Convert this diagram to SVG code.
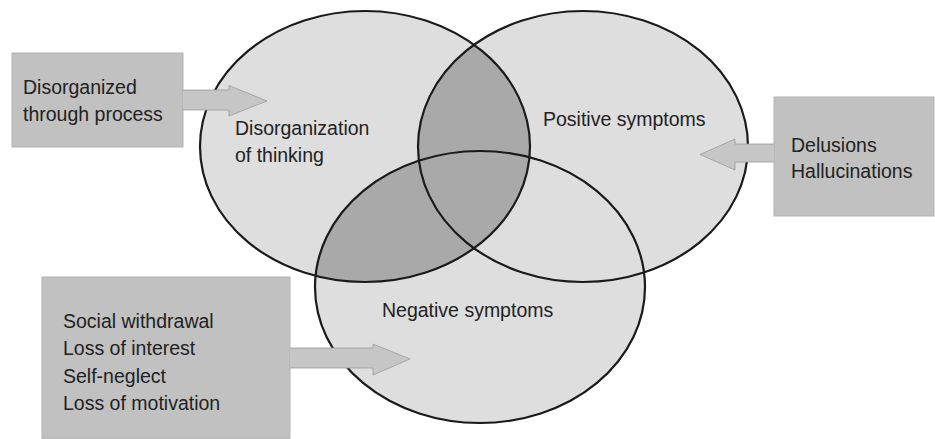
<svg xmlns="http://www.w3.org/2000/svg" width="935" height="439" viewBox="0 0 935 439">
  <style>
    .set { fill: #dedede; stroke: none; }
    .overlap { fill: #a9a9a9; stroke: none; }
    .rim { fill: none; stroke: #1a1a1a; stroke-width: 2.2; }
    .box { fill: #c1c1c1; stroke: #b3b3b3; stroke-width: 1; }
    .arrow { fill: #c6c6c6; stroke: #9a9a9a; stroke-width: 0.8; }
    .label { font-family: "Liberation Sans", Arial, sans-serif; font-size: 19.5px; fill: #222; }
  </style>
  <defs>
    <ellipse id="setA" cx="365" cy="146.5" rx="165" ry="135.5"/>
    <ellipse id="setB" cx="583" cy="146.5" rx="165" ry="135.5"/>
    <ellipse id="setC" cx="480" cy="287" rx="165" ry="136"/>
    <clipPath id="clipA"><use href="#setA"/></clipPath>
  </defs>

  <rect width="935" height="439" fill="#ffffff"/>

  <!-- Venn body: only the overlaps with the disorganization set are shaded -->
  <g id="venn">
    <use href="#setA" class="set"/>
    <use href="#setB" class="set"/>
    <use href="#setC" class="set"/>
    <g clip-path="url(#clipA)">
      <use href="#setB" class="overlap"/>
      <use href="#setC" class="overlap"/>
    </g>
    <use href="#setA" class="rim"/>
    <use href="#setB" class="rim"/>
    <use href="#setC" class="rim"/>
  </g>

  <g id="node-disorganization">
    <text class="label" x="235" y="135">Disorganization</text>
    <text class="label" x="235" y="162">of thinking</text>
  </g>
  <g id="node-positive">
    <text class="label" x="543" y="126">Positive symptoms</text>
  </g>
  <g id="node-negative">
    <text class="label" x="382" y="317">Negative symptoms</text>
  </g>

  <!-- Side boxes -->
  <g id="box-thought">
    <rect class="box" x="12" y="53" width="171" height="94"/>
    <text class="label" x="23" y="94">Disorganized</text>
    <text class="label" x="23" y="121">through process</text>
  </g>
  <g id="box-positive">
    <rect class="box" x="774" y="97" width="160" height="119"/>
    <text class="label" x="791" y="152">Delusions</text>
    <text class="label" x="791" y="178">Hallucinations</text>
  </g>
  <g id="box-negative">
    <rect class="box" x="42" y="277" width="248" height="162"/>
    <text class="label" x="63" y="328">Social withdrawal</text>
    <text class="label" x="63" y="355">Loss of interest</text>
    <text class="label" x="63" y="383">Self-neglect</text>
    <text class="label" x="63" y="410">Loss of motivation</text>
  </g>

  <!-- Block arrows -->
  <g id="connectors">
    <path class="arrow" d="M183,90 L229,90 L229,85.5 L267,101 L229,116 L229,110 L183,110"/>
    <path class="arrow" d="M774,144 L735,144 L735,139 L700,154.5 L735,170 L735,162 L774,162"/>
    <path class="arrow" d="M290,348 L373,348 L373,344 L410,359 L373,375 L373,368 L290,368"/>
  </g>
</svg>
